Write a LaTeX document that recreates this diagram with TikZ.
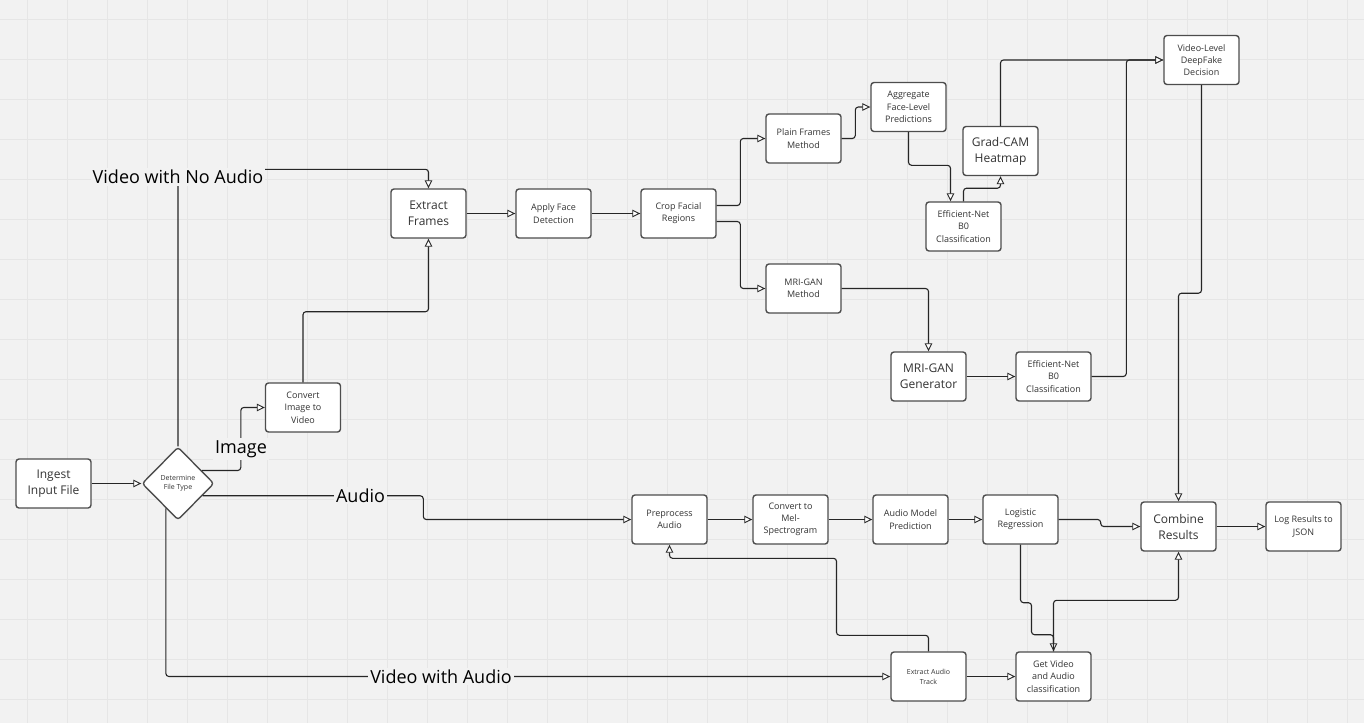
\documentclass[tikz,border=0pt]{standalone}
\usepackage{fontspec}
\setmainfont{Open Sans}
\usetikzlibrary{arrows.meta,shapes.geometric,calc}
\definecolor{bgc}{HTML}{F2F2F2}
\definecolor{gridc}{HTML}{E6E6E6}
\definecolor{boxline}{HTML}{4D4D4D}
\definecolor{txtc}{HTML}{333333}
\definecolor{linec}{HTML}{262626}
\begin{document}
\begin{tikzpicture}[x=1pt,y=-1pt,
 box/.style={draw=boxline, fill=white, line width=1.4pt, rounded corners=3pt, minimum width=75pt, minimum height=49pt, inner sep=1pt, align=center, text=txtc, font=\fontsize{9}{12.3}\selectfont},
 bigbox/.style={box, font=\fontsize{12}{16}\selectfont},
 dec/.style={draw=boxline, fill=white, line width=1.4pt, diamond, rounded corners=3pt, minimum width=72pt, minimum height=73pt, inner sep=0pt, align=center, text=txtc, font=\fontsize{7}{9.5}\selectfont},
 conn/.style={draw=linec, line width=1.1pt, rounded corners=3pt, -{Triangle[length=8pt,width=7.5pt,fill=white,line width=0.9pt]}},
 lbl/.style={fill=bgc, inner sep=2pt, text=black, font=\fontsize{18}{21}\selectfont},
 gridline/.style={draw=gridc, line width=0.9pt}]
\useasboundingbox (0,0) rectangle (1364,723);
\fill[bgc] (0,0) rectangle (1364,723);
\foreach \gx in {27,67,...,1347} \draw[gridline] (\gx,0) -- (\gx,723);
\foreach \gy in {19,59,...,699} \draw[gridline] (0,\gy) -- (1364,\gy);

% nodes
\node[bigbox] (ingest) at (53.5,483.5) {Ingest\\Input File};
\node[dec] (dft) at (178,483.5) {Determine\\File Type};
\node[box] (civ) at (303,407.5) {Convert\\Image to\\Video};
\node[bigbox] (ef) at (428.5,213.5) {Extract\\Frames};
\node[box] (afd) at (553.5,213.5) {Apply Face\\Detection};
\node[box] (crop) at (678.5,213.5) {Crop Facial\\Regions};
\node[box] (pfm) at (803.5,138.5) {Plain Frames\\Method};
\node[box] (mrim) at (803.5,288.5) {MRI-GAN\\Method};
\node[box] (agg) at (908.5,107) {Aggregate\\Face-Level\\Predictions};
\node[bigbox] (gc) at (1000.5,151) {Grad-CAM\\Heatmap};
\node[box] (effa) at (963.5,226.5) {Efficient-Net\\B0\\Classification};
\node[box] (vld) at (1201.5,60) {Video-Level\\DeepFake\\Decision};
\node[bigbox] (mrig) at (928.5,376.5) {MRI-GAN\\Generator};
\node[box] (effb) at (1053.5,376.5) {Efficient-Net\\B0\\Classification};
\node[box] (pa) at (669.5,519.5) {Preprocess\\Audio};
\node[box] (mel) at (790.5,519.5) {Convert to\\Mel-\\Spectrogram};
\node[box] (amp) at (910.5,519.5) {Audio Model\\Prediction};
\node[box] (lr) at (1020.5,519.5) {Logistic\\Regression};
\node[box, font=\fontsize{7}{10}\selectfont] (eat) at (928.5,676.5) {Extract Audio\\Track};
\node[box] (gva) at (1053.5,676.5) {Get Video\\and Audio\\classification};
\node[bigbox] (cr) at (1178.5,526.5) {Combine\\Results};
\node[box] (log) at (1303.5,526.5) {Log Results to\\JSON};

% connectors
\draw[conn] (ingest.east) -- (dft.west);
\draw[conn] ($(dft.north)!0.65!(dft.east)$) -| ($(civ.west)+(-24,0)$) -- (civ.west);
\draw[conn] (civ.north) |- ($(ef.south)+(0,73)$) -- (ef.south);
\draw[conn] (dft.north) |- ($(ef.north)+(0,-19)$) -- (ef.north);
\draw[conn] ($(dft.east)!0.33!(dft.south)$) -| ($(pa.west)+(-208,0)$) -- (pa.west);
\draw[conn] ($(dft.west)!0.67!(dft.south)$) |- (eat.west);
\draw[conn] (ef.east) -- (afd.west);
\draw[conn] (afd.east) -- (crop.west);
\draw[conn] ($(crop.east)+(0,-8)$) -| ($(pfm.west)+(-25,0)$) -- (pfm.west);
\draw[conn] ($(crop.east)+(0,8)$) -| ($(mrim.west)+(-25,0)$) -- (mrim.west);
\draw[conn] (pfm.east) -| ($(agg.west)+(-15,0)$) -- (agg.west);
\draw[conn] (agg.south) |- ($(effa.north)+(-13,-36)$) -- ($(effa.north)+(-13,0)$);
\draw[conn] (effa.north) |- ($(gc.south)+(0,12)$) -- (gc.south);
\draw[conn] (gc.north) |- (vld.west);
\draw[conn] (mrim.east) -| (mrig.north);
\draw[conn] (mrig.east) -- (effb.west);
\draw[conn] (effb.east) -| ($(vld.west)+(-37,0)$) -- (vld.west);
\draw[conn] (vld.south) -- ++(0,208) -| (cr.north);
\draw[conn] (pa.east) -- (mel.west);
\draw[conn] (mel.east) -- (amp.west);
\draw[conn] (amp.east) -- (lr.west);
\draw[conn] (lr.east) -- ++(42,0) |- (cr.west);
\draw[conn] (cr.east) -- (log.west);
\draw[conn] (lr.south) -- ++(0,58) -- ++(11,0) -- ++(0,32) -| (gva.north);
\draw[conn] (gva.north) -- ++(0,-51) -| (cr.south);
\draw[conn] (eat.north) -- ++(0,-16) -- ++(-92,0) -- ++(0,-77) -| (pa.south);
\draw[conn] (eat.east) -- (gva.west);

% labels
\node[lbl] (limg) at (241,449) {Image};
\node[lbl] (lvna) at (178,177) {Video with No Audio};
\node[lbl] (laud) at (360.5,495.5) {Audio};
\node[lbl] (lvwa) at (441,676.5) {Video with Audio};
\end{tikzpicture}
\end{document}
